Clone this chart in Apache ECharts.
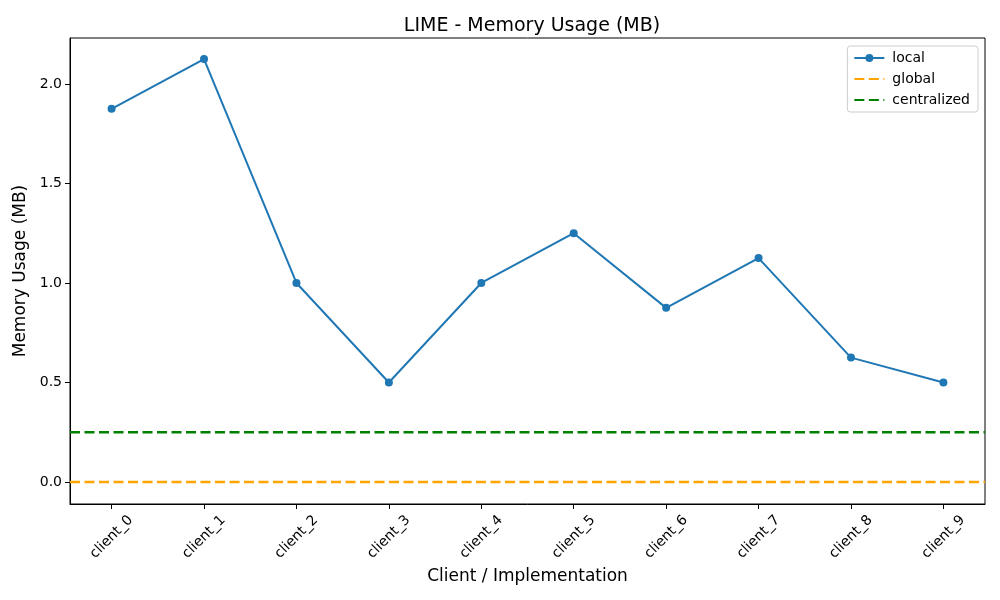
<!DOCTYPE html>
<html>
<head>
<meta charset="utf-8">
<script src="https://cdn.jsdelivr.net/npm/echarts@6/dist/echarts.min.js"></script>
<style>
  html, body { margin: 0; padding: 0; background: #fff; }
  #main { width: 1000px; height: 600px; }
</style>
</head>
<body>
<div id="main"></div>
<script>
// data
const clients = ['client_0', 'client_1', 'client_2', 'client_3', 'client_4',
                 'client_5', 'client_6', 'client_7', 'client_8', 'client_9'];
const localMem = [1.875, 2.125, 1.0, 0.5, 1.0, 1.25, 0.875, 1.125, 0.625, 0.5];
const globalMem = 0.0;
const centralizedMem = 0.25;
const yTicks = [0, 0.5, 1.0, 1.5, 2.0];

// matplotlib-like limits (5% margins)
const xMin = -0.45, xMax = clients.length - 1 + 0.45;
const yMin = -0.1106, yMax = 2.231;
const font = 'DejaVu Sans';

const xIdx = clients.map((c, i) => i);
var chart = echarts.init(document.getElementById('main'));

var option = {
  animation: false,
  textStyle: { fontFamily: font },
  title: {
    text: 'LIME - Memory Usage (MB)',
    left: 527, top: 12, textAlign: 'center',
    textStyle: { fontFamily: font, fontSize: 19, fontWeight: 'normal', color: '#000' }
  },
  legend: {
    orient: 'vertical',
    right: 22, top: 46,
    padding: [5, 8, 5, 6],
    itemGap: 7,
    itemWidth: 30, itemHeight: 10,
    borderColor: '#ccc', borderWidth: 1, borderRadius: 3,
    textStyle: { fontFamily: font, fontSize: 14, color: '#000', padding: [0, 0, 0, 3] },
    data: [
      { name: 'local' },
      { name: 'global', itemStyle: { opacity: 0 } },
      { name: 'centralized', itemStyle: { opacity: 0 } }
    ]
  },
  grid: {
    left: 70, right: 15, top: 38, bottom: 96,
    show: true, borderColor: '#000', borderWidth: 1, backgroundColor: 'transparent'
  },
  xAxis: {
    type: 'value', min: xMin, max: xMax,
    name: 'Client / Implementation', nameLocation: 'middle', nameGap: 64,
    nameTextStyle: { fontFamily: font, fontSize: 17, color: '#000' },
    axisLine: { show: true, onZero: false, lineStyle: { color: '#000' } },
    axisTick: { show: true, customValues: xIdx, length: 5, lineStyle: { color: '#000' } },
    axisLabel: {
      customValues: xIdx, rotate: 45, margin: 33,
      align: 'center', verticalAlign: 'middle',
      formatter: v => clients[Math.round(v)],
      fontFamily: font, fontSize: 14, color: '#000'
    },
    splitLine: { show: false }
  },
  yAxis: {
    type: 'value', min: yMin, max: yMax,
    name: 'Memory Usage (MB)', nameLocation: 'middle', nameGap: 33,
    nameTextStyle: { fontFamily: font, fontSize: 17, color: '#000' },
    axisLine: { show: true, onZero: false, lineStyle: { color: '#000' } },
    axisTick: { show: true, customValues: yTicks, length: 5, lineStyle: { color: '#000' } },
    axisLabel: {
      customValues: yTicks, formatter: v => v.toFixed(1),
      fontFamily: font, fontSize: 14, color: '#000'
    },
    splitLine: { show: false }
  },
  series: [
    {
      name: 'local', type: 'line',
      data: localMem.map((v, i) => [i, v]),
      symbol: 'circle', symbolSize: 8,
      itemStyle: { color: '#1f77b4' },
      lineStyle: { color: '#1f77b4', width: 2 }
    },
    {
      name: 'global', type: 'line',
      data: [[xMin, globalMem], [xMax, globalMem]],
      symbol: 'none',
      itemStyle: { color: '#ffa500' },
      lineStyle: { color: '#ffa500', width: 2.5, type: [10, 4.5] }
    },
    {
      name: 'centralized', type: 'line',
      data: [[xMin, centralizedMem], [xMax, centralizedMem]],
      symbol: 'none',
      itemStyle: { color: '#008000' },
      lineStyle: { color: '#008000', width: 2.5, type: [10, 4.5] }
    }
  ]
};

chart.setOption(option);
</script>
</body>
</html>
